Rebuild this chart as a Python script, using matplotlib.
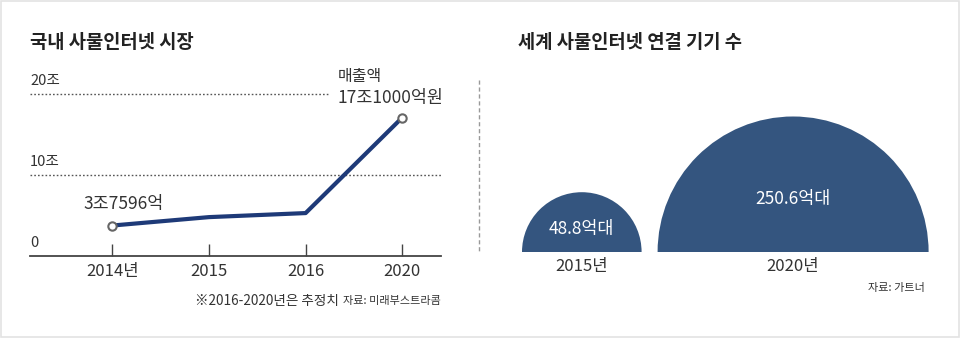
import matplotlib
matplotlib.use("Agg")
import matplotlib.pyplot as plt
import numpy as np
from matplotlib.patches import Wedge, Rectangle
from matplotlib.lines import Line2D

plt.rcParams['font.family'] = ['Noto Sans CJK KR', 'DejaVu Sans']

# 국내 사물인터넷 시장 (조원)
years = ["2014년", "2015", "2016", "2020"]
sales = [3.7596, 4.8, 5.3, 17.1]
grid_vals = [10, 20]
grid_labels = ["10조", "20조"]

# 세계 사물인터넷 연결 기기 수 (억대)
dev_years = ["2015년", "2020년"]
devices = [48.8, 250.6]
dev_labels = ["48.8억대", "250.6억대"]

W, H = 961, 338
fig = plt.figure(figsize=(W / 100, H / 100), dpi=100)
fig.patch.set_facecolor("white")

def fx(px):
    return px / W

def fy(py):
    return 1 - py / H

TXT = "#333333"
NAVY = "#1e3a78"
BLUE = "#34557f"
MED = 500

# frame
fig.patches.append(Rectangle((0.001, 0.002), 0.997, 0.996, transform=fig.transFigure,
                             fill=False, edgecolor="#e3e3e3", linewidth=1.2))

# ---- left: line chart ----
ax = fig.add_axes([fx(30), fy(256), fx(411), fy(60) - fy(256)])
ax.set_xlim(-0.85, 3.40)
ax.set_ylim(0, 24.2)
x = np.arange(len(years))
for v, lab in zip(grid_vals, grid_labels):
    xmax = 1.0 if v == 10 else 0.73
    ax.axhline(v, xmin=0, xmax=xmax, color="#555555", linestyle=(0, (1.2, 1.5)), linewidth=1)
    ax.text(-0.85, v + 0.7, lab, fontsize=10.5, color=TXT, va="bottom", ha="left", fontweight=MED)
ax.text(-0.85, 0.7, "0", fontsize=10.5, color=TXT, va="bottom", ha="left", fontweight=MED)
ax.plot(x, sales, color=NAVY, linewidth=3, solid_capstyle="round", zorder=3)
ax.plot([x[0], x[-1]], [sales[0], sales[-1]], linestyle="none", marker="o", markersize=6,
        markerfacecolor="white", markeredgecolor="#666666", markeredgewidth=1.5, zorder=4)
ax.text(x[0] - 0.3, sales[0] + 1.5, "3조7596억", fontsize=12.5, color=TXT, ha="left", va="bottom",
        fontweight=MED)
ax.text(x[-1] - 0.67, sales[-1] + 1.3, "17조1000억원", fontsize=12.5, color=TXT, ha="left", va="bottom",
        fontweight=MED)
ax.text(x[-1] - 0.67, sales[-1] + 4.0, "매출액", fontsize=11.5, color=TXT, ha="left", va="bottom",
        fontweight=MED)
ax.set_xticks(x)
ax.set_xticklabels(years, fontsize=12, color=TXT, fontweight=MED)
ax.tick_params(axis="x", direction="in", length=9, width=1, color="#444444", pad=5)
ax.set_yticks([])
for s in ["top", "right", "left"]:
    ax.spines[s].set_visible(False)
ax.spines["bottom"].set_color("#444444")
ax.spines["bottom"].set_linewidth(1.3)
ax.set_facecolor("none")

fig.text(fx(30), fy(42), "국내 사물인터넷 시장", fontsize=13.5, fontweight="bold", color="#222222",
         va="center", ha="left")
fig.text(fx(339), fy(301), "※2016-2020년은 추정치", fontsize=9.8, color=TXT, va="center", ha="right",
         fontweight=MED)
fig.text(fx(441), fy(301), "자료: 미래부스트라콤", fontsize=8, color=TXT, va="center", ha="right",
         fontweight=MED)

# divider
fig.lines.append(Line2D([fx(479), fx(479)], [fy(80), fy(253)], transform=fig.transFigure,
                        color="#999999", linestyle=(0, (3, 2)), linewidth=1))

# ---- right: semicircles ----
ax2 = fig.add_axes([fx(480), fy(300), fx(481), fy(60) - fy(300)])
ax2.set_xlim(0, 481)
ax2.set_ylim(-48, 192)
ax2.axis("off")
k = 8.56
radii = [k * np.sqrt(v) for v in devices]
start, gap = 42, 16
centers = [start + radii[0], start + 2 * radii[0] + gap + radii[1]]
for c, r, lab, yl in zip(centers, radii, dev_labels, dev_years):
    ax2.add_patch(Wedge((c, 0), r, 0, 180, facecolor=BLUE, edgecolor="none"))
    ax2.text(c, r * 0.39, lab, fontsize=12.5, color="white", ha="center", va="center", fontweight=MED)
    ax2.text(c, -15, yl, fontsize=12, color=TXT, ha="center", va="center", fontweight=MED)
ax2.text(445, -36, "자료: 가트너", fontsize=8, color=TXT, ha="right", va="center", fontweight=MED)

fig.text(fx(518), fy(42), "세계 사물인터넷 연결 기기 수", fontsize=13.5, fontweight="bold", color="#222222",
         va="center", ha="left")

fig.savefig("out.png", dpi=100, facecolor="white")
